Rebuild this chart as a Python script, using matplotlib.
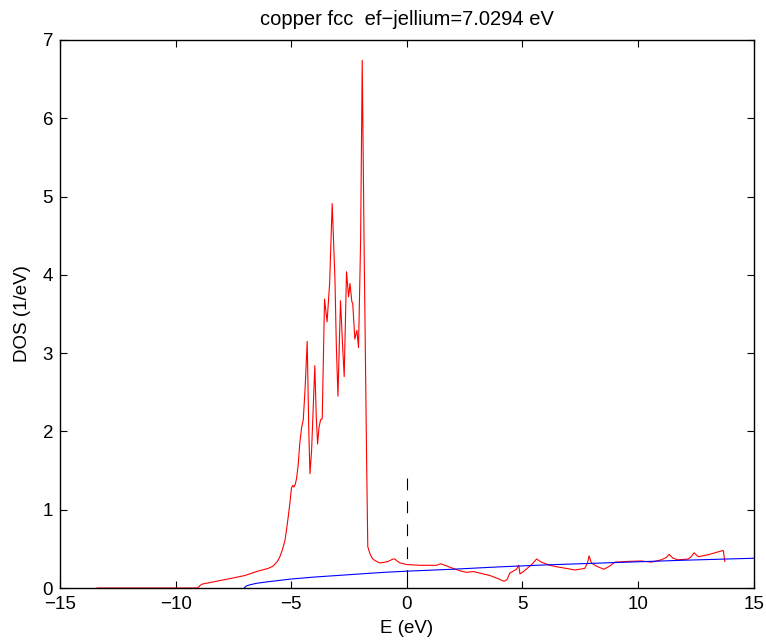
import matplotlib
matplotlib.use("Agg")
import matplotlib.pyplot as plt

plt.rcParams['font.family'] = ['Liberation Sans', 'DejaVu Sans']
plt.rcParams['lines.scale_dashes'] = False

# DOS of copper (red)
e_cu = [-13.4, -9.05, -8.95, -8.85, -8.5, -8.0, -7.65, -7.0, -6.5, -6.0,
        -5.78, -5.6, -5.49, -5.38, -5.27, -5.2, -5.13, -5.06, -4.99, -4.93,
        -4.88, -4.82, -4.77, -4.70, -4.63, -4.55, -4.48, -4.40, -4.31, -4.24,
        -4.19, -4.12, -4.05, -3.98, -3.92, -3.86, -3.80, -3.73, -3.66, -3.56,
        -3.45, -3.34, -3.23, -3.11, -3.05, -2.98, -2.87, -2.78, -2.71, -2.61,
        -2.52, -2.46, -2.38, -2.34, -2.25, -2.16, -2.09, -2.0, -1.93, -1.85,
        -1.74, -1.69, -1.60, -1.50, -1.38, -1.17, -0.95, -0.81, -0.6, -0.52,
        -0.40, -0.30, 0.0, 0.56, 1.28, 1.46, 1.65, 2.0, 2.3, 2.58,
        2.87, 3.16, 3.59, 4.02, 4.15, 4.24, 4.34, 4.45, 4.74, 4.84,
        4.89, 5.0, 5.24, 5.43, 5.61, 5.82, 6.18, 6.5, 6.90, 7.26,
        7.69, 7.81, 7.88, 7.98, 8.19, 8.52, 8.77, 8.99, 9.56, 10.14,
        10.57, 11.0, 11.22, 11.34, 11.51, 11.73, 12.16, 12.3, 12.42, 12.6,
        13.03, 13.68, 13.75]
dos_cu = [0, 0, 0.03, 0.05, 0.07, 0.10, 0.12, 0.16, 0.21, 0.25,
          0.28, 0.34, 0.40, 0.49, 0.61, 0.75, 0.91, 1.08, 1.28, 1.31,
          1.29, 1.33, 1.40, 1.57, 1.85, 2.05, 2.15, 2.55, 3.15, 2.0,
          1.46, 1.75, 2.3, 2.84, 2.2, 1.84, 2.05, 2.15, 2.16, 3.69,
          3.40, 3.89, 4.91, 3.95, 3.1, 2.45, 3.67, 3.1, 2.70, 4.04,
          3.72, 3.89, 3.66, 3.63, 3.18, 3.29, 3.07, 4.44, 6.74, 4.4,
          1.63, 0.53, 0.44, 0.38, 0.35, 0.32, 0.33, 0.34, 0.37, 0.37,
          0.34, 0.32, 0.30, 0.29, 0.29, 0.31, 0.29, 0.25, 0.22, 0.20,
          0.21, 0.19, 0.16, 0.11, 0.09, 0.09, 0.11, 0.19, 0.24, 0.29,
          0.18, 0.20, 0.26, 0.31, 0.37, 0.33, 0.29, 0.27, 0.25, 0.23,
          0.25, 0.32, 0.41, 0.32, 0.28, 0.24, 0.28, 0.33, 0.34, 0.345,
          0.33, 0.36, 0.39, 0.43, 0.38, 0.36, 0.37, 0.40, 0.45, 0.40,
          0.425, 0.48, 0.34]

# free electron (jellium) DOS (blue)
e_jel = [-7.03, -6.95, -6.8, -6.5, -6.0, -5.0, -4.0, -3.0, -2.0, -1.0,
         0.0, 2.0, 4.0, 6.0, 8.0, 10.0, 12.0, 15.0]
dos_jel = [0, 0.025, 0.04, 0.06, 0.08, 0.115, 0.14, 0.16, 0.18, 0.20,
           0.215, 0.24, 0.27, 0.295, 0.315, 0.335, 0.355, 0.38]

# fermi level marker
e_fermi = [0, 0]
dos_fermi = [1.4, 0]

fig = plt.figure(figsize=(7.66, 6.42), dpi=100)
ax = fig.add_axes([0.0783, 0.0841, 0.9057, 0.8536])

ax.plot(e_cu, dos_cu, color='red', linewidth=0.8)
ax.plot(e_jel, dos_jel, color='blue', linewidth=0.8)
ax.plot(e_fermi, dos_fermi, color='black', linewidth=0.8, linestyle='--', dashes=(8.5, 8))

ax.set_xlim(-15, 15)
ax.set_ylim(0, 7)
ax.set_xticks(range(-15, 16, 5))
ax.set_yticks(range(0, 8))
ax.tick_params(direction='in', top=True, right=True, length=5, width=0.8, labelsize=13.5)
ax.tick_params(axis='x', pad=6)
ax.tick_params(axis='y', pad=5)
for s in ax.spines.values():
    s.set_linewidth(1.0)

ax.set_title('copper fcc  ef\u2212jellium=7.0294 eV', fontsize=14.5, pad=11)
ax.set_xlabel('E (eV)', fontsize=13.5, labelpad=5)
ax.set_ylabel('DOS (1/eV)', fontsize=13.5, labelpad=8)

fig.savefig('out.png', dpi=100)
